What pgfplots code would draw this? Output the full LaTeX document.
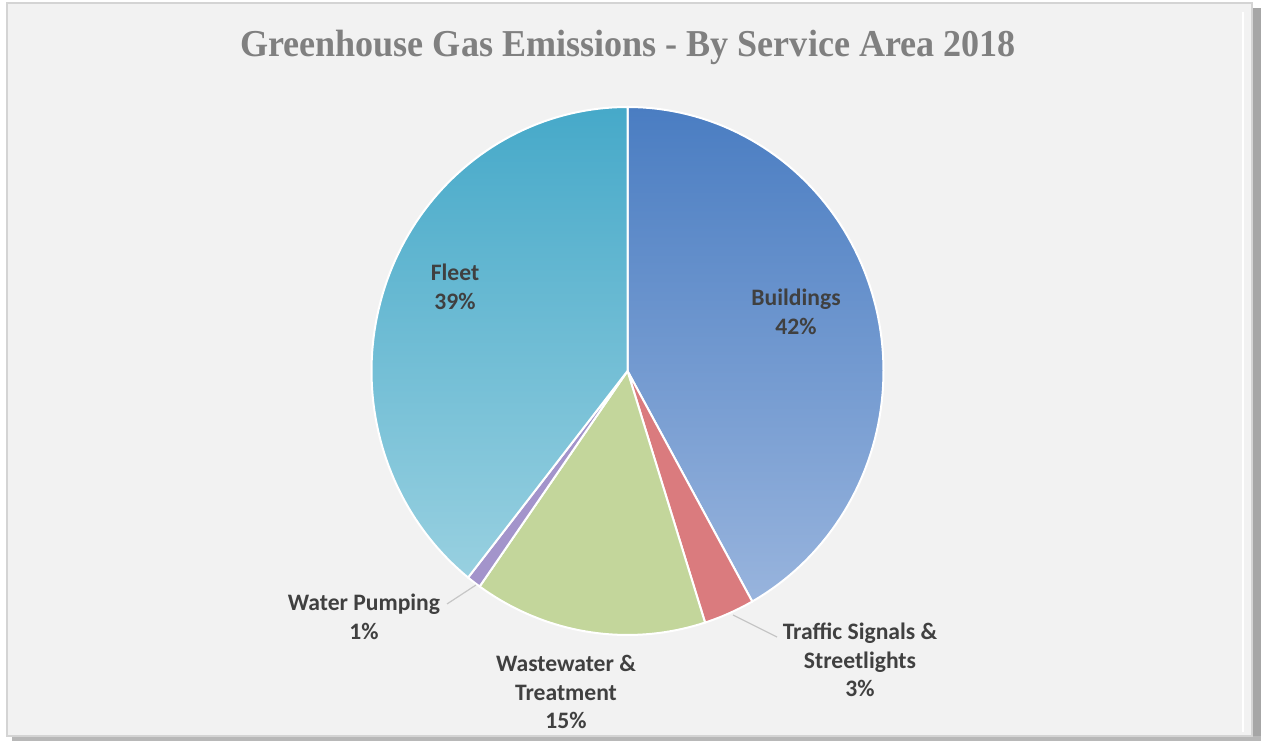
\documentclass[border=0pt]{standalone}
\usepackage{pgfplots}
\usepackage{pgfplotstable}
\pgfplotsset{compat=1.18}
\usepackage{fontspec}
\setmainfont{Carlito}
\newfontfamily\titlefont{Liberation Serif}
\definecolor{bgc}{HTML}{F2F2F2}
\definecolor{framec}{HTML}{D4D4D4}
\definecolor{shadowc}{HTML}{A6A6A6}
\definecolor{titlec}{HTML}{808080}
\definecolor{labc}{HTML}{404040}
\definecolor{bldtop}{HTML}{4A7DC2}
\definecolor{bldbot}{HTML}{98B4DD}
\definecolor{flttop}{HTML}{46A9C9}
\definecolor{fltbot}{HTML}{98D0E0}
\definecolor{trfc}{HTML}{DA7B7E}
\definecolor{wwc}{HTML}{C3D69B}
\definecolor{wpc}{HTML}{A394CB}

\pgfplotstableread{
name value
Buildings 41.9
Traffic 3.2
Wastewater 14.7
Water 0.9
Fleet 39.3
}\piedata

\begin{document}%
\begin{tikzpicture}%
\pgfplotstablegetelem{0}{value}\of\piedata\let\vB\pgfplotsretval
\pgfplotstablegetelem{1}{value}\of\piedata\let\vT\pgfplotsretval
\pgfplotstablegetelem{2}{value}\of\piedata\let\vW\pgfplotsretval
\pgfplotstablegetelem{3}{value}\of\piedata\let\vP\pgfplotsretval
\pgfplotstablegetelem{4}{value}\of\piedata\let\vF\pgfplotsretval
\pgfmathsetmacro\aA{90}
\pgfmathsetmacro\aB{\aA-3.6*\vB}
\pgfmathsetmacro\aC{\aB-3.6*\vT}
\pgfmathsetmacro\aD{\aC-3.6*\vW}
\pgfmathsetmacro\aE{\aD-3.6*\vP}
\pgfmathsetmacro\aF{\aE-3.6*\vF}
\def\cx{627.5}\def\cy{371}\def\rx{256}\def\ry{264}
\begin{axis}[
  width=631.5pt, height=371pt, scale only axis,
  xmin=0, xmax=1263, ymin=0, ymax=742,
  hide axis, clip=false,
]
% background and frame
\fill[white] (axis cs:0,0) rectangle (axis cs:1263,742);
\fill[shadowc] (axis cs:1252,2) rectangle (axis cs:1261,734);
\fill[shadowc!80] (axis cs:12,1) rectangle (axis cs:1261,6);
\filldraw[fill=bgc, draw=framec, line width=0.8pt] (axis cs:7,6) rectangle (axis cs:1252,739);
\draw[white, line width=1pt] (axis cs:1243,10) -- (axis cs:1243,730);

% slices
\addplot[draw=white, line width=1pt, top color=bldtop, bottom color=bldbot, domain=\aB:\aA, samples=90, variable=\t]
  ({\cx+\rx*cos(\t)}, {\cy+\ry*sin(\t)}) -- (axis cs:\cx,\cy) -- cycle;
\addplot[draw=white, line width=1pt, fill=trfc, domain=\aC:\aB, samples=20, variable=\t]
  ({\cx+\rx*cos(\t)}, {\cy+\ry*sin(\t)}) -- (axis cs:\cx,\cy) -- cycle;
\addplot[draw=white, line width=1pt, fill=wwc, domain=\aD:\aC, samples=40, variable=\t]
  ({\cx+\rx*cos(\t)}, {\cy+\ry*sin(\t)}) -- (axis cs:\cx,\cy) -- cycle;
\addplot[draw=white, line width=1pt, fill=wpc, domain=\aE:\aD, samples=10, variable=\t]
  ({\cx+\rx*cos(\t)}, {\cy+\ry*sin(\t)}) -- (axis cs:\cx,\cy) -- cycle;
\addplot[draw=white, line width=1pt, top color=flttop, bottom color=fltbot, domain=\aF:\aE, samples=90, variable=\t]
  ({\cx+\rx*cos(\t)}, {\cy+\ry*sin(\t)}) -- (axis cs:\cx,\cy) -- cycle;

% leader lines
\draw[gray!45, line width=0.6pt] (axis cs:447,138) -- (axis cs:476,157);
\draw[gray!45, line width=0.6pt] (axis cs:733,127) -- (axis cs:777,105);

% title
\node[text=titlec, font=\titlefont\bfseries\fontsize{19}{22}\selectfont, xscale=0.95] at (axis cs:628,695) {Greenhouse Gas Emissions - By Service Area 2018};

% labels
\tikzset{lab/.style={text=labc, align=center, font=\bfseries\fontsize{11.8}{14.25}\selectfont, inner sep=0pt}}
\node[lab] at (axis cs:455,455) {Fleet\\39\%};
\node[lab] at (axis cs:796,430) {Buildings\\42\%};
\node[lab] at (axis cs:364,125) {Water Pumping\\1\%};
\node[lab] at (axis cs:566,50) {Wastewater \&\\Treatment\\15\%};
\node[lab] at (axis cs:860,82) {Traffic Signals \&\\Streetlights\\3\%};
\end{axis}
\end{tikzpicture}%
\end{document}
